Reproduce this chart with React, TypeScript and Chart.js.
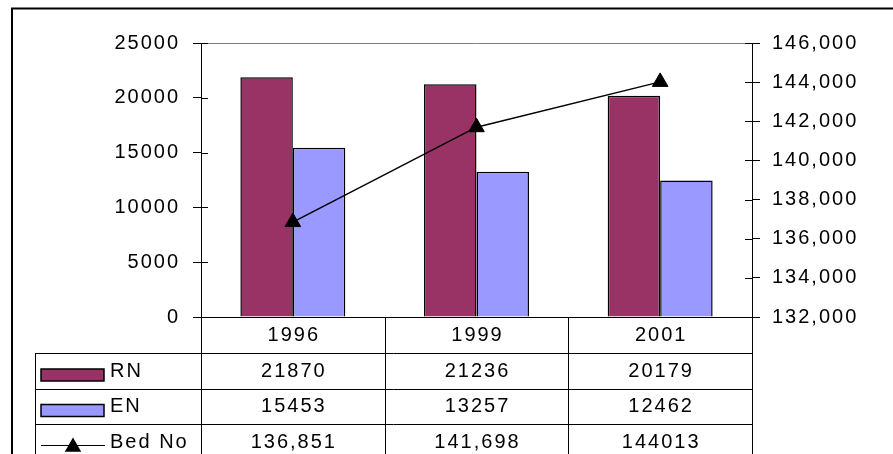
import React, { useEffect, useRef } from "react";
import { Chart, registerables } from "chart.js";

Chart.register(...registerables);

const categories = ["1996", "1999", "2001"];
const seriesNames = ["RN", "EN", "Bed No"];
const rnValues = [21870, 21236, 20179];
const enValues = [15453, 13257, 12462];
const bedNoValues = [136851, 141698, 144013];
const rnLabels = ["21870", "21236", "20179"];
const enLabels = ["15453", "13257", "12462"];
const bedNoLabels = ["136,851", "141,698", "144013"];
const leftAxis = { min: 0, max: 25000, step: 5000 };
const rightAxis = { min: 132000, max: 146000, step: 2000 };

const FONT = "'Liberation Sans', Arial, sans-serif";
const FONT_SIZE = 20;
const SPACING = "2px";
const RN_COLOR = "#993366";
const EN_COLOR = "#9999FF";

const tablePlugin = {
  id: "dataTable",
  beforeDraw(chart: any) {
    chart.ctx.letterSpacing = SPACING;
  },
  afterDraw(chart: any) {
    const ctx = chart.ctx;
    const area = chart.chartArea;
    const xs = chart.scales.x;
    const ys = chart.scales.y;
    const y1 = chart.scales.y1;
    const H = chart.height;
    ctx.save();
    ctx.letterSpacing = SPACING;

    // top gray border of plot area
    ctx.strokeStyle = "#808080";
    ctx.lineWidth = 1;
    ctx.beginPath();
    ctx.moveTo(area.left, Math.round(area.top) + 0.5);
    ctx.lineTo(area.right, Math.round(area.top) + 0.5);
    ctx.stroke();

    // inner tick marks
    ctx.strokeStyle = "#000";
    ctx.beginPath();
    ys.ticks.forEach((_t: any, i: number) => {
      const y = Math.round(ys.getPixelForTick(i)) + 0.5;
      ctx.moveTo(area.left, y);
      ctx.lineTo(area.left + 7, y);
    });
    y1.ticks.forEach((_t: any, i: number) => {
      const y = Math.round(y1.getPixelForTick(i)) + 0.5;
      ctx.moveTo(area.right - 7, y);
      ctx.lineTo(area.right, y);
    });
    ctx.stroke();

    // table geometry
    const n = categories.length;
    const colW = xs.getPixelForValue(1) - xs.getPixelForValue(0);
    const bounds: number[] = [];
    for (let i = 0; i <= n; i++) {
      bounds.push(i < n ? xs.getPixelForValue(i) - colW / 2 : xs.getPixelForValue(n - 1) + colW / 2);
    }
    const headerTop = area.bottom;
    const rowTops = [headerTop, headerTop + 36, headerTop + 72, headerTop + 107, headerTop + 143];
    const tableLeft = 35;

    ctx.strokeStyle = "#000";
    ctx.lineWidth = 1;
    ctx.beginPath();
    bounds.forEach((bx) => {
      const x = Math.round(bx) + 0.5;
      ctx.moveTo(x, headerTop);
      ctx.lineTo(x, H);
    });
    ctx.moveTo(tableLeft + 0.5, rowTops[1]);
    ctx.lineTo(tableLeft + 0.5, H);
    for (let r = 1; r <= 3; r++) {
      const y = Math.round(rowTops[r]) + 0.5;
      ctx.moveTo(tableLeft, y);
      ctx.lineTo(bounds[n], y);
    }
    ctx.stroke();

    ctx.fillStyle = "#000";
    ctx.font = `${FONT_SIZE}px ${FONT}`;
    ctx.textBaseline = "middle";
    ctx.textAlign = "center";
    const rows = [categories, rnLabels, enLabels, bedNoLabels];
    rows.forEach((row, r) => {
      const cy = (rowTops[r] + rowTops[r + 1]) / 2;
      row.forEach((txt, i) => {
        ctx.fillText(txt, xs.getPixelForValue(i) + 1, cy);
      });
    });

    // legend keys
    ctx.textAlign = "left";
    const dsets = chart.data.datasets;
    for (let r = 1; r <= 3; r++) {
      const cy = (rowTops[r] + rowTops[r + 1]) / 2;
      const ds = dsets[r - 1];
      if (r < 3) {
        ctx.fillStyle = ds.backgroundColor;
        ctx.fillRect(41, cy - 2, 63, 12);
        ctx.strokeStyle = "#000";
        ctx.lineWidth = 1.5;
        ctx.strokeRect(41, cy - 2, 63, 12);
      } else {
        ctx.strokeStyle = "#000";
        ctx.lineWidth = 1;
        ctx.beginPath();
        ctx.moveTo(41, Math.round(cy + 3) + 0.5);
        ctx.lineTo(105, Math.round(cy + 3) + 0.5);
        ctx.stroke();
        ctx.fillStyle = "#000";
        const tx = 73, ty = cy + 5, rad = 9.5;
        ctx.beginPath();
        ctx.moveTo(tx, ty - rad);
        ctx.lineTo(tx + rad * 0.866, ty + rad * 0.5);
        ctx.lineTo(tx - rad * 0.866, ty + rad * 0.5);
        ctx.closePath();
        ctx.fill();
      }
      ctx.fillStyle = "#000";
      ctx.fillText(seriesNames[r - 1], 110, cy);
    }

    // outer chart border
    ctx.strokeStyle = "#000";
    ctx.lineWidth = 2;
    ctx.beginPath();
    ctx.moveTo(12, H + 5);
    ctx.lineTo(12, 8.5);
    ctx.lineTo(chart.width + 5, 8.5);
    ctx.stroke();

    ctx.restore();
  },
};

export default function App() {
  const ref = useRef<HTMLCanvasElement | null>(null);
  useEffect(() => {
    if (!ref.current) return;
    const chart = new Chart(ref.current, {
      type: "bar",
      data: {
        labels: categories,
        datasets: [
          {
            type: "bar",
            label: seriesNames[0],
            data: rnValues,
            backgroundColor: RN_COLOR,
            borderColor: "#000",
            borderWidth: 1.5,
            yAxisID: "y",
            order: 2,
            categoryPercentage: 2 / 3.5,
            barPercentage: 1,
          },
          {
            type: "bar",
            label: seriesNames[1],
            data: enValues,
            backgroundColor: EN_COLOR,
            borderColor: "#000",
            borderWidth: 1.5,
            yAxisID: "y",
            order: 2,
            categoryPercentage: 2 / 3.5,
            barPercentage: 1,
          },
          {
            type: "line",
            label: seriesNames[2],
            data: bedNoValues,
            borderColor: "#000",
            borderWidth: 1.5,
            backgroundColor: "#000",
            pointStyle: "triangle",
            pointRadius: 9,
            pointBackgroundColor: "#000",
            pointBorderColor: "#000",
            pointBorderWidth: 1,
            yAxisID: "y1",
            order: 0,
            tension: 0,
          },
        ] as any,
      },
      options: {
        animation: false,
        responsive: false,
        layout: { padding: { top: 43, left: 0, right: 0, bottom: 0 } },
        plugins: { legend: { display: false }, tooltip: { enabled: false } },
        scales: {
          x: {
            grid: { display: false },
            border: { display: true, color: "#000", width: 1 },
            ticks: { display: false },
            afterFit(scale: any) {
              scale.height = 137;
            },
          },
          y: {
            position: "left",
            min: leftAxis.min,
            max: leftAxis.max,
            grid: { drawOnChartArea: false, drawTicks: true, tickLength: 8, color: "#000" },
            border: { display: true, color: "#000", width: 1 },
            ticks: {
              stepSize: leftAxis.step,
              color: "#000",
              font: { family: FONT, size: FONT_SIZE },
              padding: 13,
              callback: (v: any) => String(v),
            },
            afterFit(scale: any) {
              scale.width = 201;
            },
          },
          y1: {
            position: "right",
            min: rightAxis.min,
            max: rightAxis.max,
            grid: { drawOnChartArea: false, drawTicks: true, tickLength: 8, color: "#000" },
            border: { display: true, color: "#000", width: 1 },
            ticks: {
              stepSize: rightAxis.step,
              color: "#000",
              font: { family: FONT, size: FONT_SIZE },
              padding: 12,
              callback: (v: any) => Number(v).toLocaleString("en-US"),
            },
            afterFit(scale: any) {
              scale.width = 141;
            },
          },
        },
      } as any,
      plugins: [tablePlugin],
    });
    return () => chart.destroy();
  }, []);
  return (
    <div style={{ position: "absolute", left: 0, top: 0, width: 893, height: 454, background: "#fff" }}>
      <canvas ref={ref} width={893} height={454} style={{ display: "block" }} />
    </div>
  );
}
